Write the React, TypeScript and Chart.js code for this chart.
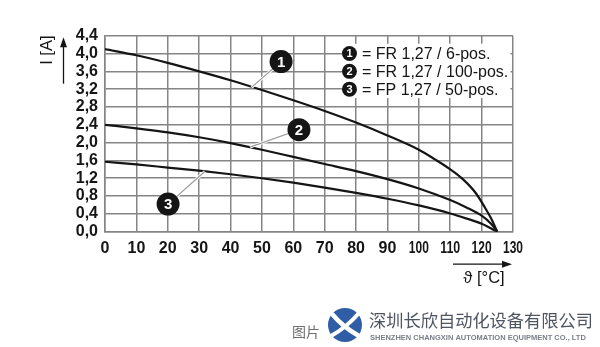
import React, { useEffect, useRef } from "react";
import { Chart, registerables } from "chart.js";

Chart.register(...registerables);

// Temperature (°C) / current (A) derating curves
const temps1 = [0, 10, 20, 30, 40, 50, 60, 70, 80, 90, 100, 105, 110, 114, 118, 121, 123, 125];
const amps1 = [4.1, 3.96, 3.79, 3.6, 3.4, 3.18, 2.95, 2.71, 2.45, 2.16, 1.84, 1.63, 1.4, 1.18, 0.88, 0.55, 0.3, 0];

const temps2 = [0, 10, 20, 30, 40, 50, 60, 70, 80, 90, 100, 110, 115, 120, 123, 125];
const amps2 = [2.4, 2.32, 2.23, 2.12, 1.99, 1.84, 1.68, 1.52, 1.36, 1.18, 0.97, 0.71, 0.55, 0.36, 0.18, 0];

const temps3 = [0, 10, 20, 30, 40, 50, 60, 70, 80, 90, 100, 110, 115, 120, 125];
const amps3 = [1.57, 1.51, 1.44, 1.37, 1.29, 1.2, 1.1, 0.99, 0.87, 0.74, 0.59, 0.41, 0.3, 0.18, 0];

const xTicks = [0, 10, 20, 30, 40, 50, 60, 70, 80, 90, 100, 110, 120, 130];
const yTicks = [0, 0.4, 0.8, 1.2, 1.6, 2.0, 2.4, 2.8, 3.2, 3.6, 4.0, 4.4];

const legendLabels = ["= FR 1,27 / 6-pos.", "= FR 1,27 / 100-pos.", "= FP 1,27 / 50-pos."];
const legendRows = [4.0, 3.6, 3.2];

// Numbered callouts: circle position and the point on the curve it refers to
const calloutNumbers = ["1", "2", "3"];
const calloutCentres = [[56.1, 3.82], [61.8, 2.29], [20.1, 0.62]];
const calloutAnchors = [[46.7, 3.24], [46.2, 1.9], [31.8, 1.35]];

const FONT = '"Liberation Sans", "DejaVu Sans", Arial, sans-serif';
const CJK = '"Noto Sans CJK SC", "Noto Sans", sans-serif';
const GRID = "#858585";
const INK = "#151515";

const toPoints = (xs: number[], ys: number[]) => xs.map((x, i) => ({ x, y: ys[i] }));

const decorations = {
  id: "decorations",
  afterDatasetsDraw(chart: any) {
    const { ctx, scales } = chart;
    const xs = scales.x;
    const ys = scales.y;
    ctx.save();
    // leader lines + numbered circles
    calloutNumbers.forEach((num, i) => {
      const cx = xs.getPixelForValue(calloutCentres[i][0]);
      const cy = ys.getPixelForValue(calloutCentres[i][1]);
      const ax = xs.getPixelForValue(calloutAnchors[i][0]);
      const ay = ys.getPixelForValue(calloutAnchors[i][1]);
      ctx.strokeStyle = "#ffffff";
      ctx.lineWidth = 3;
      ctx.beginPath();
      ctx.moveTo(ax, ay);
      ctx.lineTo(cx, cy);
      ctx.stroke();
      ctx.strokeStyle = "#9a9a9a";
      ctx.lineWidth = 1.2;
      ctx.beginPath();
      ctx.moveTo(ax, ay);
      ctx.lineTo(cx, cy);
      ctx.stroke();
      ctx.fillStyle = INK;
      ctx.beginPath();
      ctx.arc(cx, cy, 11.5, 0, Math.PI * 2);
      ctx.fill();
      ctx.fillStyle = "#ffffff";
      ctx.font = `bold 15px ${FONT}`;
      ctx.textAlign = "center";
      ctx.textBaseline = "middle";
      ctx.fillText(num, cx, cy + 1);
    });

    // legend box
    const left = xs.getPixelForValue(75.5);
    const right = xs.right - 2.5;
    const top = ys.getPixelForValue(4.22);
    const bottom = ys.getPixelForValue(3.0);
    ctx.fillStyle = "#ffffff";
    ctx.fillRect(left, top, right - left, bottom - top);
    legendLabels.forEach((label, i) => {
      const y = ys.getPixelForValue(legendRows[i]);
      const cx = left + 7.5;
      ctx.fillStyle = INK;
      ctx.beginPath();
      ctx.arc(cx, y, 7.5, 0, Math.PI * 2);
      ctx.fill();
      ctx.fillStyle = "#ffffff";
      ctx.font = `bold 11px ${FONT}`;
      ctx.textAlign = "center";
      ctx.textBaseline = "middle";
      ctx.fillText(calloutNumbers[i], cx, y + 0.5);
      ctx.fillStyle = INK;
      ctx.font = `16px ${FONT}`;
      ctx.textAlign = "left";
      ctx.fillText(label, left + 20, y + 1);
    });
    ctx.restore();
  },
  afterDraw(chart: any) {
    const { ctx, scales, chartArea } = chart;
    const xs = scales.x;
    ctx.save();
    // x tick labels (narrowed when three digits wide)
    ctx.fillStyle = INK;
    ctx.font = `bold 16px ${FONT}`;
    ctx.textAlign = "center";
    ctx.textBaseline = "middle";
    xTicks.forEach((v) => {
      ctx.fillText(String(v), xs.getPixelForValue(v), chartArea.bottom + 17, 20);
    });

    // x axis arrow and title
    const ay = chartArea.bottom + 32.5;
    ctx.strokeStyle = INK;
    ctx.fillStyle = INK;
    ctx.lineWidth = 1.3;
    ctx.beginPath();
    ctx.moveTo(chartArea.right - 60, ay);
    ctx.lineTo(chartArea.right - 8, ay);
    ctx.stroke();
    ctx.beginPath();
    ctx.moveTo(chartArea.right - 1, ay);
    ctx.lineTo(chartArea.right - 11, ay - 3.5);
    ctx.lineTo(chartArea.right - 11, ay + 3.5);
    ctx.closePath();
    ctx.fill();
    ctx.font = `16.5px ${FONT}`;
    ctx.textAlign = "center";
    ctx.fillText("ϑ [°C]", chartArea.right - 29, chartArea.bottom + 47);

    // y axis arrow and title
    const ax = chartArea.left - 41.5;
    ctx.beginPath();
    ctx.moveTo(ax, chartArea.top + 48);
    ctx.lineTo(ax, chartArea.top + 9);
    ctx.stroke();
    ctx.beginPath();
    ctx.moveTo(ax, chartArea.top + 1.5);
    ctx.lineTo(ax - 3.5, chartArea.top + 11.5);
    ctx.lineTo(ax + 3.5, chartArea.top + 11.5);
    ctx.closePath();
    ctx.fill();
    ctx.translate(chartArea.left - 57.5, chartArea.top + 14.5);
    ctx.rotate(-Math.PI / 2);
    ctx.fillText("I [A]", 0, 0);
    ctx.restore();

    // company mark at the bottom
    ctx.save();
    ctx.fillStyle = "#6e6e6e";
    ctx.font = `14px ${CJK}`;
    ctx.textAlign = "left";
    ctx.textBaseline = "middle";
    ctx.fillText("图片", 292, 332);
    const lx = 345;
    const ly = 325;
    ctx.fillStyle = "#2f5ea6";
    ctx.beginPath();
    ctx.arc(lx, ly, 17, 0, Math.PI * 2);
    ctx.fill();
    ctx.strokeStyle = "#ffffff";
    ctx.lineCap = "round";
    ctx.lineWidth = 4.5;
    ctx.beginPath();
    ctx.moveTo(lx - 12, ly - 10);
    ctx.quadraticCurveTo(lx - 2, ly + 2, lx + 14, ly + 11);
    ctx.stroke();
    ctx.lineWidth = 4;
    ctx.beginPath();
    ctx.moveTo(lx - 14, ly + 11);
    ctx.quadraticCurveTo(lx + 2, ly + 2, lx + 14, ly - 12);
    ctx.stroke();
    ctx.fillStyle = "#4d5560";
    ctx.font = `17.5px ${CJK}`;
    ctx.fillText("深圳长欣自动化设备有限公司", 369, 320, 224);
    ctx.fillStyle = "#7a7f88";
    ctx.font = `bold 7.5px ${FONT}`;
    ctx.fillText("SHENZHEN CHANGXIN AUTOMATION EQUIPMENT CO., LTD", 370, 337.5, 222);
    ctx.restore();
  },
};

export default function App() {
  const canvasRef = useRef<HTMLCanvasElement | null>(null);

  useEffect(() => {
    if (!canvasRef.current) return;
    const line = (xs: number[], ys: number[]) => ({
      data: toPoints(xs, ys),
      borderColor: INK,
      borderWidth: 2.2,
      pointRadius: 0,
      fill: false,
      cubicInterpolationMode: "monotone" as const,
    });
    const chart = new Chart(canvasRef.current, {
      type: "line",
      data: {
        datasets: [line(temps1, amps1), line(temps2, amps2), line(temps3, amps3)],
      },
      options: {
        animation: false,
        responsive: false,
        devicePixelRatio: 1,
        layout: { padding: { top: 35.7, right: 87, bottom: 0, left: 0 } },
        plugins: { legend: { display: false }, tooltip: { enabled: false } },
        scales: {
          x: {
            type: "linear",
            min: 0,
            max: 130,
            afterBuildTicks: (s: any) => {
              s.ticks = xTicks.map((v) => ({ value: v }));
            },
            ticks: { display: false, autoSkip: false },
            grid: { color: GRID, lineWidth: 1.5, drawTicks: false },
            border: { color: GRID, width: 1.5 },
            afterFit: (s: any) => {
              s.height = 347 - 231.7;
            },
          },
          y: {
            type: "linear",
            min: 0,
            max: 4.4,
            afterBuildTicks: (s: any) => {
              s.ticks = yTicks.map((v) => ({ value: v }));
            },
            ticks: {
              autoSkip: false,
              callback: (v: any) => Number(v).toFixed(1).replace(".", ","),
              font: { family: FONT, size: 16, weight: "bold" },
              color: INK,
              padding: 7,
            },
            grid: { color: GRID, lineWidth: 1.5, drawTicks: false },
            border: { color: GRID, width: 1.5 },
            afterFit: (s: any) => {
              s.width = 105;
            },
          },
        },
      },
      plugins: [decorations],
    });
    return () => chart.destroy();
  }, []);

  return (
    <div style={{ position: "fixed", left: 0, top: 0, width: 600, height: 347, background: "#ffffff" }}>
      <canvas ref={canvasRef} width={600} height={347} style={{ display: "block", width: 600, height: 347 }} />
    </div>
  );
}
